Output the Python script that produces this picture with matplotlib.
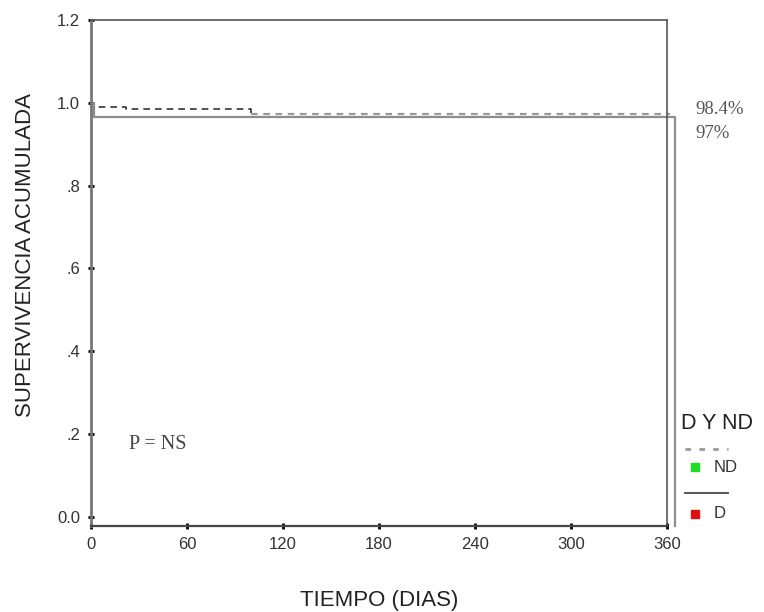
import numpy as np
import matplotlib.pyplot as plt

plt.rcParams['font.family'] = ['Liberation Sans', 'DejaVu Sans']

# Kaplan-Meier style step data (days, cumulative survival)
nd_time = [0, 2, 22, 100, 362]
nd_surv = [1.0, 0.99, 0.984, 0.972, 0.972]
d_time = [0, 2, 365, 365]
d_surv = [1.0, 0.965, 0.965, -0.022]

xticks = [0, 60, 120, 180, 240, 300, 360]
yticks = [0.0, 0.2, 0.4, 0.6, 0.8, 1.0, 1.2]
ytick_labels = ["0.0", ".2", ".4", ".6", ".8", "1.0", "1.2"]
end_labels = ["98.4%", "97%"]

fig = plt.figure(figsize=(7.64, 6.12), dpi=100)
ax = fig.add_axes([0.1191, 0.1405, 0.754, 0.8268])

# ND group (dashed): dark early part, lighter later part
ax.step(nd_time[:4], nd_surv[:4], where="post", color="#333333", lw=1.2,
        ls=(0, (4, 3)), clip_on=False)
ax.step(nd_time[3:], nd_surv[3:], where="post", color="#999999", lw=1.6,
        ls=(0, (3, 2.5)), clip_on=False)
# D group (solid grey)
ax.step(d_time, d_surv, where="post", color="#8c8c8c", lw=1.6, clip_on=False)

ax.set_xlim(0, 360)
ax.set_ylim(-0.022, 1.2)
ax.set_xticks(xticks)
ax.set_yticks(yticks)
ax.set_yticklabels(ytick_labels)
ax.tick_params(direction="inout", length=4, width=2, color="black",
               labelsize=12, labelcolor="#333333", pad=6)

for side in ["top", "right"]:
    ax.spines[side].set_color("#555555")
    ax.spines[side].set_linewidth(1.2)
ax.spines["left"].set_color("#777777")
ax.spines["left"].set_linewidth(2)
ax.spines["bottom"].set_color("#444444")
ax.spines["bottom"].set_linewidth(1.6)

ax.set_ylabel("SUPERVIVENCIA ACUMULADA", fontsize=16, color="#222222", va="center")
ax.yaxis.set_label_coords(-0.114, 0.536)
ax.set_xlabel("TIEMPO (DIAS)", fontsize=16, color="#222222", va="center")
ax.xaxis.set_label_coords(0.5, -0.148)

serif = ["Liberation Serif", "DejaVu Serif"]
ax.text(378, 0.985, end_labels[0], fontsize=13.5, family=serif, color="#555555",
        va="center", ha="left", clip_on=False)
ax.text(378, 0.925, end_labels[1], fontsize=13.5, family=serif, color="#555555",
        va="center", ha="left", clip_on=False)
ax.text(24, 0.175, "P = NS", fontsize=14.5, family=serif, color="#444444",
        va="center", ha="left")

# legend drawn by hand at right
ax.text(369, 0.225, "D Y ND", fontsize=15.5, color="#222222", ha="left",
        va="center", clip_on=False)
ax.plot([371, 398], [0.163, 0.163], color="#999999", lw=2, ls=(0, (2, 3)),
        clip_on=False)
ax.plot([377.5], [0.12], marker="s", ms=6, color="#22dd22", clip_on=False)
ax.text(389, 0.12, "ND", fontsize=12, color="#333333", va="center",
        clip_on=False)
ax.plot([371, 398], [0.058, 0.058], color="#555555", lw=1.4, clip_on=False)
ax.plot([377.5], [0.008], marker="s", ms=6, color="#dd1111", clip_on=False)
ax.text(389, 0.008, "D", fontsize=12, color="#333333", va="center",
        clip_on=False)

fig.savefig("out.png", dpi=100)
